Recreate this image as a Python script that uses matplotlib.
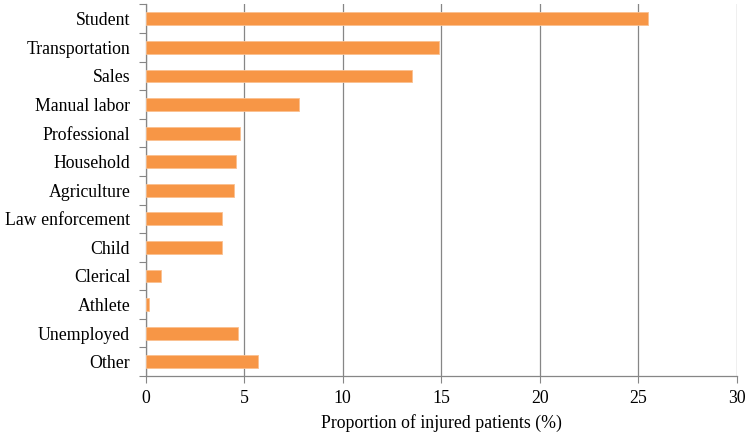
import matplotlib
matplotlib.use("Agg")
import matplotlib.pyplot as plt
import numpy as np

categories = ["Student", "Transportation", "Sales", "Manual labor", "Professional",
              "Household", "Agriculture", "Law enforcement", "Child", "Clerical",
              "Athlete", "Unemployed", "Other"]
values = [25.5, 14.9, 13.5, 7.8, 4.8, 4.6, 4.5, 3.9, 3.9, 0.8, 0.2, 4.7, 5.7]
xticks = [0, 5, 10, 15, 20, 25, 30]
xlabel = "Proportion of injured patients (%)"

plt.rcParams['font.family'] = ['Liberation Serif', 'DejaVu Serif']

fig = plt.figure(figsize=(7.5, 4.36), dpi=100)
ax = fig.add_axes([0.194, 0.1376, 0.7887, 0.8521])

n = len(categories)
y = np.arange(n)
ax.barh(y, values, height=0.45, color='#F79646', edgecolor='#FAC090', linewidth=0.6, zorder=3)
ax.set_ylim(n - 0.5, -0.5)
ax.set_xlim(0, 30)

fs = 12.8
ax.set_yticks(y)
ax.set_yticklabels(categories, fontsize=fs)
ax.set_yticks(np.arange(-0.5, n, 1.0), minor=True)
ax.tick_params(axis='y', which='major', length=0, pad=11)
ax.tick_params(axis='y', which='minor', length=5, width=0.8, color='#868686', direction='out')

ax.set_xticks(xticks)
ax.set_xticklabels([str(t) for t in xticks], fontsize=fs)
ax.tick_params(axis='x', which='major', length=5, width=0.8, color='#868686', direction='out', pad=5)
ax.set_xlabel(xlabel, fontsize=fs, labelpad=5)

ax.grid(axis='x', color='#868686', linewidth=0.9, zorder=0)
ax.set_axisbelow(True)

for s in ['top', 'right']:
    ax.spines[s].set_visible(False)
ax.spines['left'].set_color('#868686')
ax.spines['left'].set_linewidth(0.9)
ax.spines['bottom'].set_color('#868686')
ax.spines['bottom'].set_linewidth(0.9)

fig.savefig("out.png", dpi=100)
